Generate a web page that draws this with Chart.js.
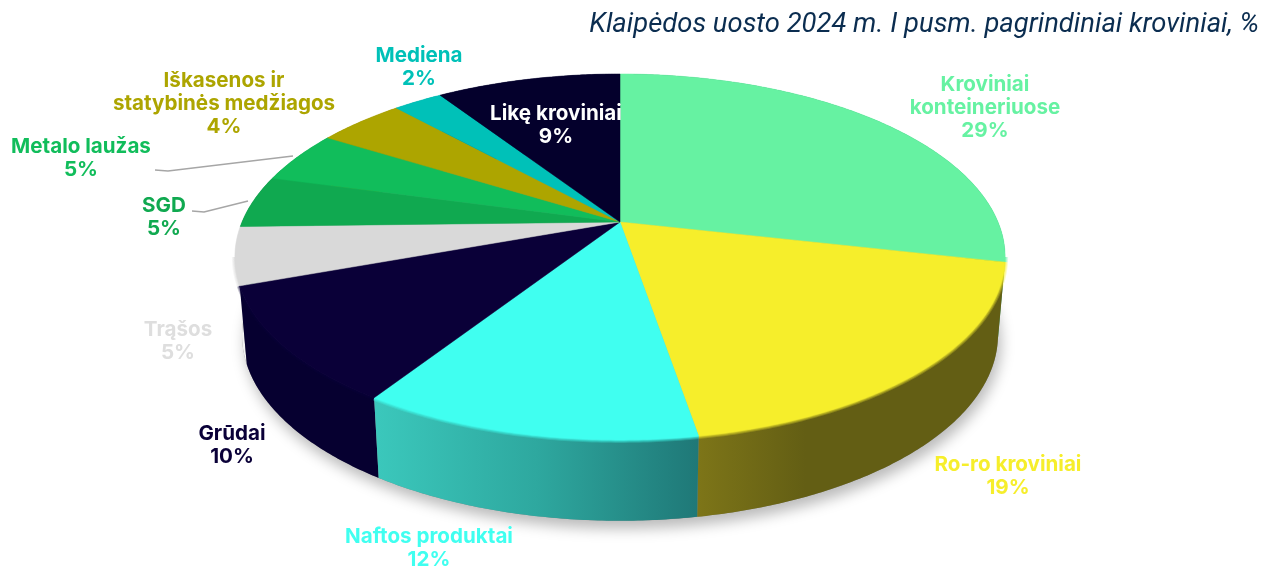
<!DOCTYPE html>
<html lang="lt">
<head>
<meta charset="utf-8">
<title>Klaipėdos uosto kroviniai</title>
<script src="https://cdn.jsdelivr.net/npm/chart.js@4"></script>
<style>html,body{margin:0;padding:0;background:#fff}canvas{display:block}</style>
</head>
<body>
<canvas id="c" width="1275" height="570"></canvas>
<script>
// ---- data ----
const categories = ['Kroviniai konteineriuose','Ro-ro kroviniai','Naftos produktai','Grūdai','Trąšos','SGD','Metalo laužas','Iškasenos ir statybinės medžiagos','Mediena','Likę kroviniai'];
const sliceValues = [28.5,18.8,11.9,10.3,5.1,4.6,4.6,4.4,2.5,9.3];
const percentLabels = ['29%','19%','12%','10%','5%','5%','5%','4%','2%','9%'];
const titleText = 'Klaipėdos uosto 2024 m. I pusm. pagrindiniai kroviniai, %';

// ---- styles and layout ----
const faceColors = ['#66f2a2','#f6ee2b','#40fff0','#0a0038','#d9d9d9','#10a950','#11bd5b','#ada500','#00c1b8','#04002c'];
const labelColors = ['#66f2a2','#f6ee2b','#40fff0','#0a0038','#dedede','#10a950','#11bd5b','#ada500','#00c1b8','#ffffff'];
const wallStops = [
  [[0,'#2f9a6c'],[1,'#2f9a6c']],
  [[0,'#7d7518'],[0.35,'#635e14'],[1,'#635e14']],
  [[0,'#3bc8bc'],[0.5,'#2ea89f'],[1,'#1f7877']],
  [[0,'#060030'],[1,'#060030']],
  [[0,'#f2f2f2'],[1,'#f2f2f2']],
  [[0,'#0c8a42'],[1,'#0c8a42']],
  [[0,'#0e9a4a'],[1,'#0e9a4a']],
  [[0,'#8a8400'],[1,'#8a8400']],
  [[0,'#009a92'],[1,'#009a92']],
  [[0,'#04002c'],[1,'#04002c']]
];
const labelLayout = [
  {x:985,y:85,lines:['Kroviniai','konteineriuose']},
  {x:1008,y:465,lines:['Ro-ro kroviniai']},
  {x:429,y:537,lines:['Naftos produktai']},
  {x:232,y:434,lines:['Grūdai']},
  {x:178,y:330,lines:['Trąšos']},
  {x:164,y:206,lines:['SGD']},
  {x:81,y:147,lines:['Metalo laužas']},
  {x:224,y:81,lines:['Iškasenos ir','statybinės medžiagos']},
  {x:419,y:56,lines:['Mediena']},
  {x:556,y:114,lines:['Likę kroviniai']}
];
const leaderLines = [
  [[155,170],[168,171],[293,156]],
  [[192,211],[204,212],[248,201]]
];
const FONT = '700 20.6px Inter, "Open Sans", sans-serif';
const LINE = 23;

// perspective projection of the unit disc: K = depth foreshortening
const K = 0.191, CX = 620;
const TOP = {R:378, S:176.3, Y:222};
const BOTTOM = {R:371, S:179, Y:299.5};
const RIM_FROM = Math.asin(K), RIM_TO = Math.PI - Math.asin(K);
function project(angle, p){
  const u = Math.cos(angle), v = Math.sin(angle), w = 1 - K*v;
  return [CX + p.R*u/w, p.Y + p.S*v/w];
}
function tracePath(ctx, a0, a1, p, first){
  const n = Math.max(2, Math.ceil(Math.abs(a1-a0)/0.01));
  for(let i=0;i<=n;i++){
    const q = project(a0+(a1-a0)*i/n, p);
    if(i===0 && first) ctx.moveTo(q[0],q[1]); else ctx.lineTo(q[0],q[1]);
  }
}

const pie3d = {
  id:'pie3d',
  beforeDatasetDraw(chart, args){
    const ctx = chart.ctx, arcs = args.meta.data;
    ctx.save();
    // ground shadow under the disc
    ctx.save();
    ctx.shadowColor='rgba(0,0,0,0.27)';ctx.shadowBlur=14;ctx.shadowOffsetY=8;ctx.shadowOffsetX=3;
    ctx.fillStyle='#888';
    ctx.beginPath();tracePath(ctx,-Math.PI/2,Math.PI*1.5,BOTTOM,true);ctx.closePath();ctx.fill();
    ctx.restore();
    // side walls, back to front
    const depthOrder = arcs.map((arc,i)=>i).sort((a,b)=>
      Math.sin((arcs[a].startAngle+arcs[a].endAngle)/2)-Math.sin((arcs[b].startAngle+arcs[b].endAngle)/2));
    depthOrder.forEach(i=>{
      const arc=arcs[i],a0=arc.startAngle,a1=arc.endAngle;
      const pA=project(a0,TOP),pB=project(a1,TOP);
      const g=ctx.createLinearGradient(Math.min(pA[0],pB[0]),0,Math.max(pA[0],pB[0]),0);
      wallStops[i].forEach(s=>g.addColorStop(s[0],s[1]));
      ctx.fillStyle=g;
      ctx.beginPath();
      tracePath(ctx,a0,a1,TOP,true);
      tracePath(ctx,a1,a0,BOTTOM,false);
      ctx.closePath();ctx.fill();
    });
    // soft bevel on the near rim only
    arcs.forEach((arc,i)=>{
      const a0=Math.max(arc.startAngle,RIM_FROM),a1=Math.min(arc.endAngle,RIM_TO);
      if(a1<=a0) return;
      ctx.strokeStyle=faceColors[i];ctx.lineCap='butt';
      [[6,.25],[4,.35],[2,.5]].forEach(b=>{
        ctx.globalAlpha=b[1];ctx.lineWidth=b[0];
        ctx.beginPath();tracePath(ctx,a0,a1,TOP,true);ctx.stroke();
      });
    });
    ctx.globalAlpha=1;
    // top faces, from the library's arc angles
    arcs.forEach((arc,i)=>{
      ctx.fillStyle=faceColors[i];ctx.strokeStyle=faceColors[i];ctx.lineWidth=0.5;
      ctx.beginPath();
      ctx.moveTo(CX,TOP.Y);
      tracePath(ctx,arc.startAngle,arc.endAngle,TOP,false);
      ctx.closePath();ctx.fill();ctx.stroke();
    });
    ctx.restore();
    return false;
  },
  afterDraw(chart){
    const ctx=chart.ctx;
    ctx.save();
    ctx.strokeStyle='#a6a6a6';ctx.lineWidth=1.4;
    leaderLines.forEach(l=>{
      ctx.beginPath();
      l.forEach((q,i)=>i?ctx.lineTo(q[0],q[1]):ctx.moveTo(q[0],q[1]));
      ctx.stroke();
    });
    ctx.font=FONT;ctx.textAlign='center';ctx.textBaseline='middle';
    labelLayout.forEach((l,i)=>{
      ctx.fillStyle=labelColors[i];
      l.lines.concat(percentLabels[i]).forEach((t,j)=>ctx.fillText(t,l.x,l.y+j*LINE));
    });
    ctx.restore();
  }
};

new Chart(document.getElementById('c'),{
  type:'pie',
  data:{labels:categories,datasets:[{data:sliceValues,backgroundColor:faceColors,borderWidth:0}]},
  options:{
    responsive:false,animation:false,
    layout:{padding:{right:16,top:9}},
    plugins:{
      legend:{display:false},
      tooltip:{enabled:false},
      title:{display:true,text:titleText,align:'end',color:'#0b2d50',
        font:{family:'Roboto, "Liberation Sans", sans-serif',size:27.4,style:'italic',weight:'normal'},
        padding:{top:0,bottom:0}}
    }
  },
  plugins:[pie3d]
});
</script>
</body>
</html>
